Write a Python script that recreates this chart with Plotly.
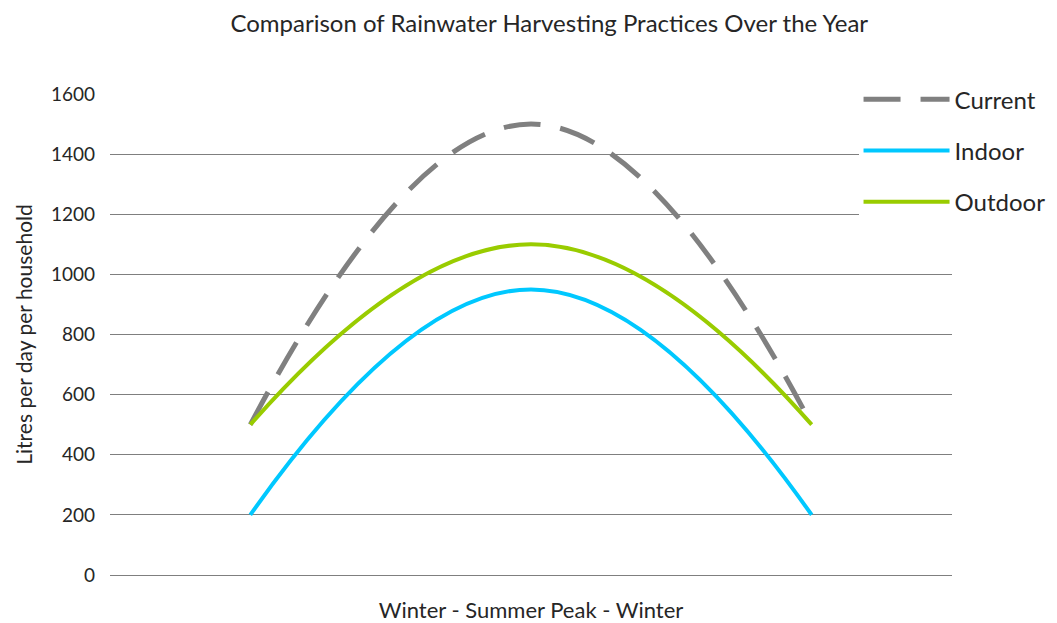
import plotly.graph_objects as go

# season positions along the x axis (labels are only shown in the axis title)
seasons = ["Winter", "Summer Peak", "Winter"]
current = [500, 1500, 500]
indoor = [200, 950, 200]
outdoor = [500, 1100, 500]

FONT = "Lato, 'Noto Sans', sans-serif"
TEXT = "#262626"

x = list(range(len(seasons)))

fig = go.Figure()
fig.add_trace(go.Scatter(
    x=x, y=current, name="Current", mode="lines",
    line=dict(color="#808080", width=5, dash="37px,20px", shape="spline", smoothing=1.3),
    legendgroup="a",
))
fig.add_trace(go.Scatter(
    x=x, y=indoor, name="Indoor", mode="lines",
    line=dict(color="#00C8FF", width=4, shape="spline", smoothing=1.3),
    legendgroup="b",
))
fig.add_trace(go.Scatter(
    x=x, y=outdoor, name="Outdoor", mode="lines",
    line=dict(color="#99CC00", width=4, shape="spline", smoothing=1.3),
    legendgroup="c",
))

# the page body adds an 8px margin, so the figure is 8px smaller and shifted
fig.update_layout(
    width=1049, height=615,
    paper_bgcolor="white", plot_bgcolor="white",
    font=dict(family=FONT, color=TEXT),
    margin=dict(l=102, r=105, t=86, b=48, autoexpand=False),
    title=dict(
        text="Comparison of Rainwater Harvesting Practices Over the Year",
        x=0.516, xanchor="center", y=0.975, yanchor="middle",
        font=dict(size=24, color=TEXT),
    ),
    xaxis=dict(
        range=[-0.5, 2.5], showticklabels=False, showgrid=False,
        zeroline=False, showline=False, ticks="",
        title=dict(text="Winter - Summer Peak - Winter", standoff=28,
                   font=dict(size=22, color=TEXT)),
    ),
    yaxis=dict(
        range=[0, 1600], dtick=200, showgrid=True, gridcolor="#7f7f7f",
        gridwidth=1, zeroline=True, zerolinecolor="#7f7f7f", zerolinewidth=1,
        showline=False, ticks="", ticklabelstandoff=14,
        tickfont=dict(size=19, color=TEXT),
        title=dict(text="Litres per day per household", standoff=12,
                   font=dict(size=21, color=TEXT)),
    ),
    legend=dict(
        x=0.889, xanchor="left", y=1.035, yanchor="top",
        bgcolor="white", borderwidth=0,
        font=dict(size=24, color=TEXT),
        itemwidth=86, traceorder="grouped", tracegroupgap=17,
    ),
    showlegend=True,
)

fig.write_html("out.html")
